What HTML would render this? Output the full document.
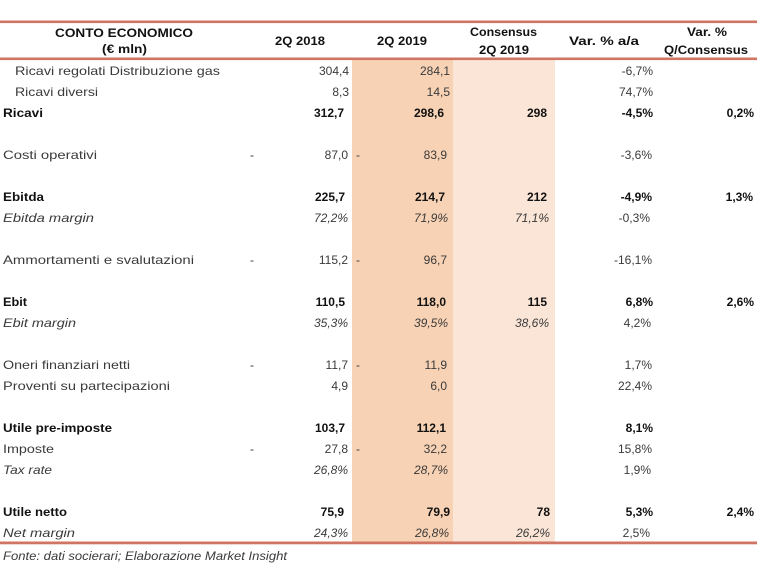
<!DOCTYPE html>
<html><head><meta charset="utf-8"><style>
html,body{margin:0;padding:0;background:#fff;}
svg{display:block;}
text{font-family:"Liberation Sans","DejaVu Sans",sans-serif;font-size:12px;fill:#3a3a3a;}
.b{font-weight:bold;fill:#111;}
.i{font-style:italic;}
.h{font-weight:bold;fill:#111;font-size:11.5px;}
.n{text-anchor:end;}
</style></head><body>
<svg width="757" height="566" viewBox="0 0 757 566" xmlns="http://www.w3.org/2000/svg">
<rect x="0" y="0" width="757" height="566" fill="#fff"/>
<rect x="352" y="60" width="101" height="482" fill="#f8d2b4"/>
<rect x="453" y="60" width="102" height="482" fill="#fbe5d6"/>
<rect x="0" y="20.5" width="757" height="2.6" fill="#d07563"/>
<rect x="0" y="57.5" width="757" height="2.6" fill="#d07563"/>
<rect x="0" y="541.5" width="757" height="2.8" fill="#d07563"/>

<!-- header -->
<text class="h" x="55" y="37" textLength="138" lengthAdjust="spacingAndGlyphs">CONTO ECONOMICO</text>
<text class="h" x="102" y="53" textLength="45" lengthAdjust="spacingAndGlyphs">(€ mln)</text>
<text class="h" x="275" y="45" textLength="50" lengthAdjust="spacingAndGlyphs">2Q 2018</text>
<text class="h" x="377" y="45" textLength="50" lengthAdjust="spacingAndGlyphs">2Q 2019</text>
<text class="h" x="470" y="36" textLength="67" lengthAdjust="spacingAndGlyphs">Consensus</text>
<text class="h" x="479" y="54" textLength="50" lengthAdjust="spacingAndGlyphs">2Q 2019</text>
<text class="h" x="569" y="45" textLength="70" lengthAdjust="spacingAndGlyphs">Var. % a/a</text>
<text class="h" x="687" y="36" textLength="40" lengthAdjust="spacingAndGlyphs">Var. %</text>
<text class="h" x="664" y="54" textLength="84" lengthAdjust="spacingAndGlyphs">Q/Consensus</text>

<!-- labels -->
<text x="15" y="75" textLength="205" lengthAdjust="spacingAndGlyphs">Ricavi regolati Distribuzione gas</text>
<text x="15" y="96" textLength="83" lengthAdjust="spacingAndGlyphs">Ricavi diversi</text>
<text class="b" x="3" y="117" textLength="40" lengthAdjust="spacingAndGlyphs">Ricavi</text>
<text x="3" y="159" textLength="94" lengthAdjust="spacingAndGlyphs">Costi operativi</text>
<text class="b" x="3" y="201" textLength="41" lengthAdjust="spacingAndGlyphs">Ebitda</text>
<text class="i" x="3" y="222" textLength="91" lengthAdjust="spacingAndGlyphs">Ebitda margin</text>
<text x="3" y="264" textLength="191" lengthAdjust="spacingAndGlyphs">Ammortamenti e svalutazioni</text>
<text class="b" x="3" y="306" textLength="24" lengthAdjust="spacingAndGlyphs">Ebit</text>
<text class="i" x="3" y="327" textLength="73" lengthAdjust="spacingAndGlyphs">Ebit margin</text>
<text x="3" y="369" textLength="127" lengthAdjust="spacingAndGlyphs">Oneri finanziari netti</text>
<text x="3" y="390" textLength="167" lengthAdjust="spacingAndGlyphs">Proventi su partecipazioni</text>
<text class="b" x="3" y="432" textLength="109" lengthAdjust="spacingAndGlyphs">Utile pre-imposte</text>
<text x="3" y="453" textLength="51" lengthAdjust="spacingAndGlyphs">Imposte</text>
<text class="i" x="3" y="474" textLength="49" lengthAdjust="spacingAndGlyphs">Tax rate</text>
<text class="b" x="3" y="516" textLength="64" lengthAdjust="spacingAndGlyphs">Utile netto</text>
<text class="i" x="3" y="537" textLength="72" lengthAdjust="spacingAndGlyphs">Net margin</text>

<!-- dashes -->
<text x="250" y="159">-</text><text x="356" y="159">-</text>
<text x="250" y="264">-</text><text x="356" y="264">-</text>
<text x="250" y="369">-</text><text x="356" y="369">-</text>
<text x="250" y="453">-</text><text x="356" y="453">-</text>

<!-- 2Q 2018 -->
<text class="n" x="349" y="75">304,4</text>
<text class="n" x="349" y="96">8,3</text>
<text class="n b" x="344" y="117">312,7</text>
<text class="n" x="348" y="159">87,0</text>
<text class="n b" x="345" y="201">225,7</text>
<text class="n i" x="348" y="222">72,2%</text>
<text class="n" x="348" y="264">115,2</text>
<text class="n b" x="345" y="306">110,5</text>
<text class="n i" x="348" y="327">35,3%</text>
<text class="n" x="348" y="369">11,7</text>
<text class="n" x="348" y="390">4,9</text>
<text class="n b" x="345" y="432">103,7</text>
<text class="n" x="348" y="453">27,8</text>
<text class="n i" x="348" y="474">26,8%</text>
<text class="n b" x="344" y="516">75,9</text>
<text class="n i" x="348" y="537">24,3%</text>

<!-- 2Q 2019 -->
<text class="n" x="450" y="75">284,1</text>
<text class="n" x="450" y="96">14,5</text>
<text class="n b" x="444" y="117">298,6</text>
<text class="n" x="447" y="159">83,9</text>
<text class="n b" x="445" y="201">214,7</text>
<text class="n i" x="448" y="222">71,9%</text>
<text class="n" x="447" y="264">96,7</text>
<text class="n b" x="446" y="306">118,0</text>
<text class="n i" x="448" y="327">39,5%</text>
<text class="n" x="447" y="369">11,9</text>
<text class="n" x="447" y="390">6,0</text>
<text class="n b" x="446" y="432">112,1</text>
<text class="n" x="447" y="453">32,2</text>
<text class="n i" x="448" y="474">28,7%</text>
<text class="n b" x="450" y="516">79,9</text>
<text class="n i" x="449" y="537">26,8%</text>

<!-- Consensus -->
<text class="n b" x="547" y="117">298</text>
<text class="n b" x="547" y="201">212</text>
<text class="n i" x="549" y="222">71,1%</text>
<text class="n b" x="547" y="306">115</text>
<text class="n i" x="549" y="327">38,6%</text>
<text class="n b" x="550" y="516">78</text>
<text class="n i" x="550" y="537">26,2%</text>

<!-- Var a/a -->
<text class="n" x="653" y="75">-6,7%</text>
<text class="n" x="653" y="96">74,7%</text>
<text class="n b" x="653" y="117">-4,5%</text>
<text class="n" x="652" y="159">-3,6%</text>
<text class="n b" x="652" y="201">-4,9%</text>
<text class="n" x="650" y="222">-0,3%</text>
<text class="n" x="652" y="264">-16,1%</text>
<text class="n b" x="653" y="306">6,8%</text>
<text class="n" x="651" y="327">4,2%</text>
<text class="n" x="652" y="369">1,7%</text>
<text class="n" x="652" y="390">22,4%</text>
<text class="n b" x="653" y="432">8,1%</text>
<text class="n" x="652" y="453">15,8%</text>
<text class="n" x="651" y="474">1,9%</text>
<text class="n b" x="653" y="516">5,3%</text>
<text class="n" x="650" y="537">2,5%</text>

<!-- Var Q/Consensus -->
<text class="n b" x="754" y="117">0,2%</text>
<text class="n b" x="753" y="201">1,3%</text>
<text class="n b" x="754" y="306">2,6%</text>
<text class="n b" x="754" y="516">2,4%</text>

<text class="i" x="3" y="560" textLength="284" lengthAdjust="spacingAndGlyphs">Fonte: dati socierari; Elaborazione Market Insight</text>
</svg>
</body></html>
